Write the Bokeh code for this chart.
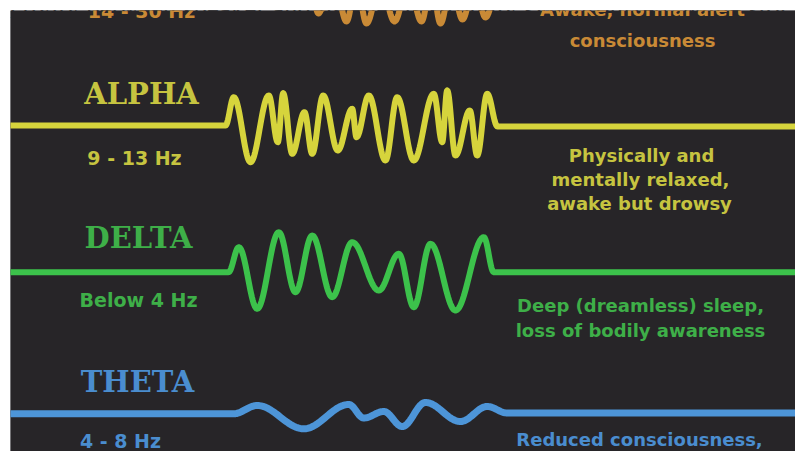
import numpy as np
from bokeh.plotting import figure
from bokeh.models import Range1d, Label
from bokeh.core.properties import value
from bokeh.embed import file_html
from bokeh.resources import INLINE

# ---------------- data (in picture pixels) ----------------
page_caption = "activity between speaker and listener is strongly synchronized, while stor"

band_names = ["ALPHA", "DELTA", "THETA"]
band_freqs = ["14 - 30 Hz", "9 - 13 Hz", "Below 4 Hz", "4 - 8 Hz"]
beta_state = ["Awake, normal alert", "consciousness"]
alpha_state = ["Physically and", "mentally relaxed,", "awake but drowsy"]
delta_state = ["Deep (dreamless) sleep,", "loss of bodily awareness"]
theta_state = ["Reduced consciousness,"]

# wave turning points (x, y)
beta_x = [296, 312, 318, 322, 334, 346, 356, 366, 380, 394, 408, 421, 431, 440, 451, 462, 474, 485, 496, 506]
beta_y = [-12, -2, 13, 8, -18, 21, -18, 23, -18, 21, -18, 21, -18, 23, -18, 19, -18, 17, -8, -12]

alpha_x = [225, 233.3, 250, 268.3, 277.3, 282.7, 291.7, 304, 311.7, 322.7, 337.3, 351.7, 356,
           368.3, 385, 396.7, 413.3, 433.3, 441.7, 446.7, 455, 469.3, 476.7, 486.7, 497]
alpha_y = [125, 96.7, 161.7, 95, 141.7, 92.7, 153.3, 111.7, 153.3, 95, 150, 108.3, 136.7,
           95, 160, 96.7, 160, 93.3, 141.7, 90, 155, 110, 155, 93.3, 126]

delta_x = [228, 238.3, 256.7, 278.3, 295, 311.7, 331.7, 351.7, 378.3, 398.3, 413.3, 430, 455, 483.3, 493.3]
delta_y = [271.7, 246.7, 308.3, 231.7, 291.7, 235, 296.7, 241.7, 290, 253.3, 306.7, 243.3, 310, 236.7, 271.7]

theta_x = [233, 256.7, 303.3, 348.3, 363.3, 383.3, 401.7, 425, 460, 486.7, 506.7]
theta_y = [413.3, 405, 428.3, 404, 417.5, 411, 426, 402, 421, 406, 412.5]

# ---------------- layout / style ----------------
BG = "#272528"
ORANGE = "#c98a36"
YEL_W, YEL_T = "#d6d43c", "#c6c440"
GRN_W, GRN_T = "#3cc24b", "#3eaf48"
BLU_W, BLU_T = "#4d95d8", "#4a8dcf"
SERIF = "DejaVu Serif"
SANS = "DejaVu Sans"

W, H = 795, 451
p = figure(width=W, height=H, output_backend="svg", toolbar_location=None,
           x_range=Range1d(10, W), y_range=Range1d(H, 10),
           x_axis_location=None, y_axis_location=None,
           min_border_left=10, min_border_top=10, min_border_right=0, min_border_bottom=0)
p.grid.visible = False
p.outline_line_color = None
p.background_fill_color = BG
p.border_fill_color = "white"

# page caption above the picture (drawn under the picture so the picture hides its overlap)
p.add_layout(Label(x=-2, y=8, text=page_caption, text_color="black",
                   text_font="Liberation Serif", text_font_size="27px",
                   text_baseline="alphabetic", level="underlay"))

# the dark picture panel itself
p.quad(left=p.x_range.start, right=p.x_range.end, top=p.y_range.end,
       bottom=p.y_range.start, fill_color=BG, line_color=None)


def smooth(xs, ys, n=24):
    X, Y = [], []
    for i in range(len(xs) - 1):
        t = np.linspace(0, 1, n, endpoint=False)
        X.extend(xs[i] + (xs[i + 1] - xs[i]) * t)
        Y.extend(ys[i] + (ys[i + 1] - ys[i]) * (1 - np.cos(np.pi * t)) / 2)
    X.append(xs[-1])
    Y.append(ys[-1])
    return X, Y


def wave(xs, ys, color, width, flat=True):
    X, Y = smooth(xs, ys)
    if flat:
        X = [p.x_range.start] + X + [p.x_range.end]
        Y = [ys[0]] + Y + [ys[-1]]
    p.line(X, Y, line_color=color, line_width=width, line_cap="round", line_join="round")


wave(beta_x, beta_y, ORANGE, 6, flat=False)
wave(alpha_x, alpha_y, YEL_W, 6)
wave(delta_x, delta_y, GRN_W, 6)
wave(theta_x, theta_y, BLU_W, 7)


def txt(x, y, texts, color, font, size, style="bold"):
    p.text(x=x, y=y, text=texts, text_color=color, text_font=value(font),
           text_font_size=size, text_font_style=style, text_align="center",
           text_baseline="middle")


# band names
txt([141], [93], band_names[0:1], YEL_T, SERIF, "29px")
txt([138], [237], band_names[1:2], GRN_T, SERIF, "29px")
txt([137], [381], band_names[2:3], BLU_T, SERIF, "29px")

# frequencies
txt([141], [10], band_freqs[0:1], ORANGE, SANS, "19px")
txt([134], [157], band_freqs[1:2], YEL_T, SANS, "19px")
txt([138], [299], band_freqs[2:3], GRN_T, SANS, "19px")
txt([120], [440], band_freqs[3:4], BLU_T, SANS, "19px")

# states
txt([642, 642], [9, 40], beta_state, ORANGE, SANS, "18px")
txt([641, 640, 639], [155, 179, 203], alpha_state, YEL_T, SANS, "18px")
txt([640, 640], [305, 330], delta_state, GRN_T, SANS, "18px")
txt([639], [439], theta_state, BLU_T, SANS, "18px")

open("out.html", "w").write(file_html(p, INLINE))
